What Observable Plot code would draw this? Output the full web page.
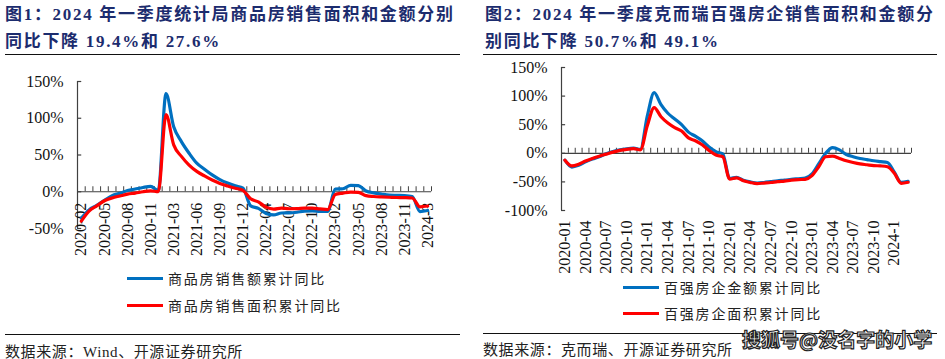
<!DOCTYPE html>
<html><head><meta charset="utf-8">
<script src="https://cdn.jsdelivr.net/npm/d3@7"></script>
<script src="https://cdn.jsdelivr.net/npm/@observablehq/plot@0.6"></script>
<style>
html,body{margin:0;padding:0;background:#fff;}
#root{position:relative;width:945px;height:359px;overflow:hidden;font-family:"Liberation Serif","Noto Sans CJK SC",serif;}
.title{position:absolute;color:#1c2c6e;font-weight:bold;font-size:17px;line-height:27px;letter-spacing:1.7px;white-space:nowrap;}
.rule{position:absolute;height:0;border-top:1.5px solid #111;}
.chart{position:absolute;}
.leg{position:absolute;display:flex;align-items:center;font-family:"Noto Sans CJK SC",sans-serif;font-size:14px;letter-spacing:1.8px;color:#222;white-space:nowrap;}
.leg i{display:inline-block;width:36px;height:3px;margin-right:5px;}
.src{position:absolute;font-size:15px;letter-spacing:0.6px;color:#222;white-space:nowrap;font-family:"Liberation Serif","Noto Sans CJK SC",serif;}
.wm{position:absolute;font-family:"Noto Sans CJK SC",sans-serif;font-weight:bold;font-size:19px;color:#fff;-webkit-text-stroke:1.2px #222;white-space:nowrap;letter-spacing:0px;}
</style></head>
<body><div id="root">
<div class="title" style="left:5px;top:1px">图1：2024 年一季度统计局商品房销售面积和金额分别<br>同比下降 19.4%和 27.6%</div>
<div class="rule" style="left:5px;top:54px;width:455px"></div>
<div class="title" style="left:485px;top:1px">图2：2024 年一季度克而瑞百强房企销售面积和金额分<br>别同比下降 50.7%和 49.1%</div>
<div class="rule" style="left:483px;top:54px;width:454px"></div>
<div id="c1" class="chart" style="left:0;top:60px"></div>
<div id="c2" class="chart" style="left:470px;top:60px"></div>
<div class="leg" style="left:127px;top:268px"><i style="background:#0070C0"></i>商品房销售额累计同比</div>
<div class="leg" style="left:127px;top:295px"><i style="background:#FF0000"></i>商品房销售面积累计同比</div>
<div class="leg" style="left:623px;top:277px"><i style="background:#0070C0"></i>百强房企金额累计同比</div>
<div class="leg" style="left:623px;top:303px"><i style="background:#FF0000"></i>百强房企面积累计同比</div>
<div class="rule" style="left:5px;top:334px;width:455px"></div>
<div class="src" style="left:5px;top:340px">数据来源：Wind、开源证券研究所</div>
<div class="rule" style="left:483px;top:333px;width:454px"></div>
<div class="src" style="left:483px;top:338px">数据来源：克而瑞、开源证券研究所</div>
<div class="wm" style="left:742px;top:325px">搜狐号@没名字的小学</div>
</div>
<script>
// ---- Chart 1: 统计局 商品房 ----
const leftMonths = ["2020-02","2020-03","2020-04","2020-05","2020-06","2020-07","2020-08","2020-09","2020-10","2020-11","2020-12",
"2021-02","2021-03","2021-04","2021-05","2021-06","2021-07","2021-08","2021-09","2021-10","2021-11","2021-12",
"2022-02","2022-03","2022-04","2022-05","2022-06","2022-07","2022-08","2022-09","2022-10","2022-11","2022-12",
"2023-02","2023-03","2023-04","2023-05","2023-06","2023-07","2023-08","2023-09","2023-10","2023-11","2023-12",
"2024-02","2024-03"];
const leftTickLabels = ["2020-02","2020-05","2020-08","2020-11","2021-03","2021-06","2021-09","2021-12","2022-04","2022-07","2022-10","2023-02","2023-05","2023-08","2023-11","2024-3"];
const leftAmount = [-35.9,-24.7,-18.6,-11.6,-5.4,-2.1,1.6,3.7,5.8,7.2,1.5,
133.4,88.5,68.2,52.4,38.9,30.7,22.9,16.6,11.8,8.0,4.8,
-19.3,-22.7,-29.5,-31.5,-28.9,-28.8,-27.9,-26.3,-26.1,-26.6,-26.7,
3.5,4.1,8.8,8.4,1.1,-1.5,-3.2,-4.6,-4.9,-5.2,-6.5,
-27.0,-25.5];
const leftArea = [-39.9,-26.3,-19.3,-12.3,-8.4,-5.8,-3.3,-1.8,0.0,1.3,0.0,
104.9,63.8,48.1,36.3,27.7,21.5,15.9,11.3,7.8,4.8,1.9,
-9.6,-13.8,-20.9,-23.6,-22.2,-23.1,-23.0,-22.2,-22.3,-23.3,-24.3,
-3.6,-1.8,-0.4,-0.9,-5.3,-6.5,-7.1,-7.5,-7.8,-8.0,-8.5,
-20.5,-19.4];
const leftYTicks = [-50,0,50,100,150];

// ---- Chart 2: 克而瑞 百强房企 ----
const rightMonths = ["2020-01","2020-02","2020-03","2020-04","2020-05","2020-06","2020-07","2020-08","2020-09","2020-10","2020-11","2020-12",
"2021-01","2021-02","2021-03","2021-04","2021-05","2021-06","2021-07","2021-08","2021-09","2021-10","2021-11","2021-12",
"2022-01","2022-02","2022-03","2022-04","2022-05","2022-06","2022-07","2022-08","2022-09","2022-10","2022-11","2022-12",
"2023-01","2023-02","2023-03","2023-04","2023-05","2023-06","2023-07","2023-08","2023-09","2023-10","2023-11","2023-12",
"2024-01","2024-02","2024-03"];
const rightTickLabels = ["2020-01","2020-04","2020-07","2020-10","2021-01","2021-04","2021-07","2021-10","2022-01","2022-04","2022-07","2022-10","2023-01","2023-04","2023-07","2023-10","2024-1"];
const rightAmount = [-12,-24,-21,-15,-10,-6,-1,3,6,8,9,7,
65,106,85,70,60,50,37,30,22,11,3,-1,
-44,-42,-47,-50,-52,-51,-49.5,-48,-47,-45.5,-44.5,-43.5,
-36,-18,0,10,6,-2,-6,-9,-11,-13,-14.5,-16,
-33,-51,-49.1];
const rightArea = [-12,-22,-19,-13.5,-9,-5,-1.5,2,5,7,8,6,
48,80,64,53,45,39,27,22,15,5,-3,-6,
-45,-43,-48,-51,-53,-52,-51,-49.5,-48.5,-47,-46,-45.5,
-39,-23,-6,-5,-9,-13,-16,-18.5,-20,-21.5,-22,-23.5,
-35,-52.5,-50.7];
const rightYTicks = [-100,-50,0,50,100,150];

const BLUE = "#0070C0", RED = "#FF0000", AX = "#404040";

function chart({months, tickLabels, amount, area, yTicks, yDomain, width, height, margins, tickStep, labelBase, labelDy, monthTickLen, yTickLen}) {
  const n = months.length;
  const bounds = d3.range(n + 1).map(i => i - 0.5);
  return Plot.plot({
    width, height,
    marginLeft: margins[0], marginRight: margins[1], marginTop: margins[2], marginBottom: margins[3],
    x: {type: "linear", domain: [-0.5, n - 0.5], axis: null},
    y: {domain: yDomain},
    style: {fontFamily: "Liberation Serif, serif", fontSize: "16px", color: "#111", background: "transparent", overflow: "visible"},
    marks: [
      Plot.axisY({ticks: yTicks, tickFormat: d => d + "%", tickSize: 0, tickPadding: 14, fontSize: 16}),
      Plot.ruleX([-0.5], {y1: () => yDomain[0], y2: () => yDomain[1], stroke: AX, strokeWidth: 1.2}),
      Plot.ruleY(yTicks, {y: d => d, x1: () => -0.5, x2: () => -0.5 + yTickLen, stroke: AX, strokeWidth: 1.2}),
      Plot.ruleY([0], {stroke: AX, strokeWidth: 1.2}),
      Plot.ruleX(bounds, {x: d => d, y1: () => 0, y2: () => monthTickLen, stroke: AX, strokeWidth: 1}),
      Plot.text(tickLabels, {x: (d, i) => i * tickStep, y: () => labelBase, text: d => d, rotate: -90, textAnchor: "end", lineAnchor: "middle", dy: labelDy, fontSize: 16, fill: "#111"}),
      Plot.line(amount, {x: (d, i) => i, y: d => d, stroke: BLUE, strokeWidth: 3.2, curve: "monotone-x"}),
      Plot.line(area, {x: (d, i) => i, y: d => d, stroke: RED, strokeWidth: 3.2, curve: "monotone-x"})
    ]
  });
}

document.getElementById("c1").append(chart({
  months: leftMonths, tickLabels: leftTickLabels, amount: leftAmount, area: leftArea,
  yTicks: leftYTicks, yDomain: [-50, 150], width: 470, height: 205, margins: [77, 39, 21, 37],
  tickStep: 3, labelBase: 0, labelDy: 11, monthTickLen: 6.8, yTickLen: 0.55
}));
document.getElementById("c2").append(chart({
  months: rightMonths, tickLabels: rightTickLabels, amount: rightAmount, area: rightArea,
  yTicks: rightYTicks, yDomain: [-100, 150], width: 475, height: 215, margins: [91, 34, 7, 65],
  tickStep: 3, labelBase: -100, labelDy: 10, monthTickLen: 8.8, yTickLen: 0.6
}));
</script>
</body></html>
